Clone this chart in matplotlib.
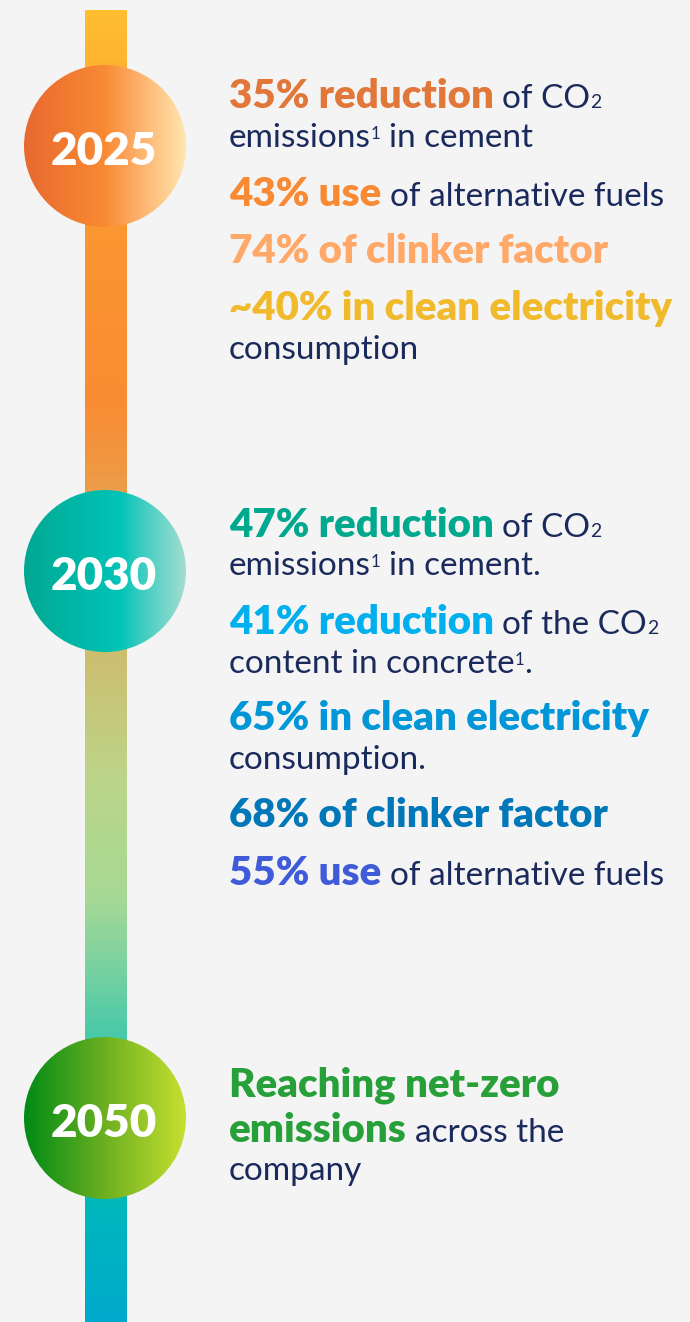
import numpy as np
import matplotlib.pyplot as plt
from matplotlib.colors import LinearSegmentedColormap
from matplotlib.patches import Circle

W, H = 690, 1322
BG = "#F4F4F4"
NAVY = "#1B2A5C"
FONT = "Lato"

# -------------------------------------------------------------------
# Content
# -------------------------------------------------------------------
years = ["2025", "2030", "2050"]

# runs: (text, colour, kind)  kind: b = bold, r = regular, sub / sup
# a leading space in the text means a word gap before the run
text_2025 = [
    [("35% reduction", "#E2773A", "b"), (" of CO", NAVY, "r"), ("2", NAVY, "sub")],
    [("emissions", NAVY, "r"), ("1", NAVY, "sup"), (" in cement", NAVY, "r")],
    [("43% use", "#F98A33", "b"), (" of alternative fuels", NAVY, "r")],
    [("74% of clinker factor", "#FFA868", "b")],
    [("~40% in clean electricity", "#F1BA2C", "b")],
    [("consumption", NAVY, "r")],
]
text_2030 = [
    [("47% reduction", "#00A88E", "b"), (" of CO", NAVY, "r"), ("2", NAVY, "sub")],
    [("emissions", NAVY, "r"), ("1", NAVY, "sup"), (" in cement.", NAVY, "r")],
    [("41% reduction", "#00B0EE", "b"), (" of the CO", NAVY, "r"), ("2", NAVY, "sub")],
    [("content in concrete", NAVY, "r"), ("1", NAVY, "sup"), (".", NAVY, "r")],
    [("65% in clean electricity", "#0096D8", "b")],
    [("consumption.", NAVY, "r")],
    [("68% of clinker factor", "#0077B8", "b")],
    [("55% use", "#3F5BD8", "b"), (" of alternative fuels", NAVY, "r")],
]
text_2050 = [
    [("Reaching net-zero", "#27A03A", "b")],
    [("emissions", "#27A03A", "b"), (" across the", NAVY, "r")],
    [("company", NAVY, "r")],
]
blocks = [text_2025, text_2030, text_2050]

# colour stops for the timeline bar (pixel row, colour)
bar_stops = [(10, "#FFBD30"), (120, "#FDA830"), (240, "#FB9530"), (400, "#F98C33"),
             (470, "#F09843"), (500, "#EAA04E"), (655, "#CDBE70"), (780, "#BCD589"),
             (900, "#A6D994"), (960, "#80D2A0"), (1030, "#4DCAA8"), (1200, "#00B8BC"),
             (1322, "#00AACB")]

# horizontal gradients inside the year circles
circle_stops = [
    [(0.0, "#E8692F"), (0.5, "#F98A33"), (0.62, "#FCA055"), (1.0, "#FFE6B0")],
    [(0.0, "#00A892"), (0.6, "#00C4B8"), (0.7, "#30CBBE"), (1.0, "#A5DDD2")],
    [(0.0, "#008A16"), (0.5, "#6CB020"), (1.0, "#C6E030")],
]

# -------------------------------------------------------------------
# Layout
# -------------------------------------------------------------------
BAR_X0, BAR_X1, BAR_TOP = 85, 127, 10
CX, R = 105, 81
circle_y = [146, 571, 1118]
TEXT_X = 229
baselines = [
    [108, 147, 206, 263, 320, 359],
    [537, 575, 634, 673, 730, 769, 827, 885],
    [1097, 1142, 1180],
]
FS_B = 29
FS_R = 24

fig = plt.figure(figsize=(W / 100, H / 100), dpi=100, facecolor=BG)
ax = fig.add_axes([0, 0, 1, 1])
ax.set_xlim(0, W)
ax.set_ylim(H, 0)
ax.axis("off")
ax.set_facecolor(BG)

# timeline bar
pos = [(y - BAR_TOP) / (H - BAR_TOP) for y, _ in bar_stops]
bar_cmap = LinearSegmentedColormap.from_list("bar", list(zip(pos, [c for _, c in bar_stops])))
bar_img = bar_cmap(np.linspace(0, 1, 400))[:, None, :3]
ax.imshow(bar_img, extent=[BAR_X0, BAR_X1, H, BAR_TOP], origin="upper",
          aspect="auto", interpolation="bilinear", zorder=1)

# year circles
for year, cy, stops in zip(years, circle_y, circle_stops):
    cmap = LinearSegmentedColormap.from_list("c" + year, stops)
    grad = cmap(np.linspace(0, 1, 256))[None, :, :3]
    im = ax.imshow(grad, extent=[CX - R, CX + R, cy + R, cy - R], origin="upper",
                   aspect="auto", interpolation="bilinear", zorder=2)
    circ = Circle((CX, cy), R, transform=ax.transData, facecolor="none", edgecolor="none")
    ax.add_patch(circ)
    im.set_clip_path(circ)
    ax.text(CX - 1, cy + 19, year, color="white", fontsize=33, fontweight="heavy",
            family=FONT, ha="center", va="baseline", zorder=3)

ax.set_xlim(0, W)
ax.set_ylim(H, 0)

# -------------------------------------------------------------------
# Rich text lines, drawn run by run
# -------------------------------------------------------------------
renderer = fig.canvas.get_renderer()


def run_width(t):
    return t.get_window_extent(renderer).width


probe_a = ax.text(0, -100, "a a", fontsize=FS_R, family=FONT)
probe_b = ax.text(0, -100, "aa", fontsize=FS_R, family=FONT)
SPACE = run_width(probe_a) - run_width(probe_b)
probe_a.remove()
probe_b.remove()

for block, ybase in zip(blocks, baselines):
    for runs, yb in zip(block, ybase):
        x = TEXT_X
        for txt, col, kind in runs:
            if txt.startswith(" "):
                x += SPACE
                txt = txt.lstrip()
            y = yb
            if kind == "b":
                kw = dict(fontsize=FS_B, fontweight="heavy")
            elif kind == "r":
                kw = dict(fontsize=FS_R, fontweight="normal")
            elif kind == "sub":
                kw = dict(fontsize=14, fontweight="normal")
            else:
                kw = dict(fontsize=12, fontweight="normal")
                y = yb - 8
            t = ax.text(x, y, txt, color=col, family=FONT, ha="left", va="baseline",
                        zorder=3, **kw)
            x += run_width(t)

fig.savefig("out.png", dpi=100, facecolor=BG)
